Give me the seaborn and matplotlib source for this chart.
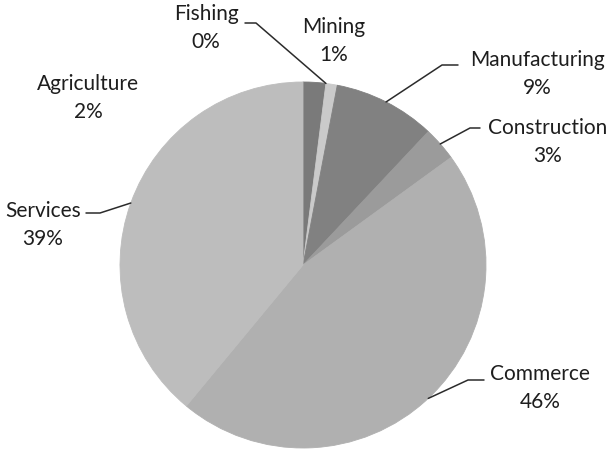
import numpy as np
import matplotlib.pyplot as plt
import seaborn as sns

# employment share by sector, clockwise from 12 o'clock
sectors = ["Agriculture", "Fishing", "Mining", "Manufacturing", "Construction", "Commerce", "Services"]
shares = [2, 0, 1, 9, 3, 46, 39]
pct_labels = ["2%", "0%", "1%", "9%", "3%", "46%", "39%"]
grays = ["#7a7a7a", "#858585", "#cacaca", "#818181", "#9b9b9b", "#b0b0b0", "#bdbdbd"]

sns.set_theme(style="white")
plt.rcParams["font.family"] = ["Lato", "DejaVu Sans"]

W, H = 615, 455
fig = plt.figure(figsize=(6.15, 4.55), dpi=100)
ax = fig.add_axes([0, 0, 1, 1])

cx, cy, r = 303, H - 265, 183
wedges, _ = ax.pie(
    shares,
    colors=grays,
    startangle=90,
    counterclock=False,
    center=(cx, cy),
    radius=r,
    wedgeprops=dict(linewidth=0.6),
)
for w in wedges:
    w.set_edgecolor(w.get_facecolor())

ax.set_xlim(0, W)
ax.set_ylim(0, H)
ax.set_aspect("equal")
ax.axis("off")

# label layout in pixels (y from top): text centre, leader points (text end, elbow)
label_pos = {
    "Agriculture": ((88, 98), None),
    "Fishing": ((206, 28), [(245, 23), (256, 23)]),
    "Mining": ((334, 41), None),
    "Manufacturing": ((537, 74), [(458, 65), (442, 65)]),
    "Construction": ((548, 142), [(480, 128), (470, 128)]),
    "Commerce": ((540, 388), [(484, 380), (468, 380)]),
    "Services": ((43, 225), [(86, 213), (100, 213)]),
}

for w, name, pct in zip(wedges, sectors, pct_labels):
    (tx, ty), leader = label_pos[name]
    ax.text(tx, H - ty, f"{name}\n{pct}", ha="center", va="center",
            fontsize=15, color="#1e1e1e", linespacing=1.5)
    if leader:
        mid = np.deg2rad((w.theta1 + w.theta2) / 2)
        ex, ey = cx + r * np.cos(mid), cy + r * np.sin(mid)
        xs = [p[0] for p in leader] + [ex]
        ys = [H - p[1] for p in leader] + [ey]
        ax.plot(xs, ys, color="#2b2b2b", lw=1.1)

fig.savefig("out.png", dpi=100)
